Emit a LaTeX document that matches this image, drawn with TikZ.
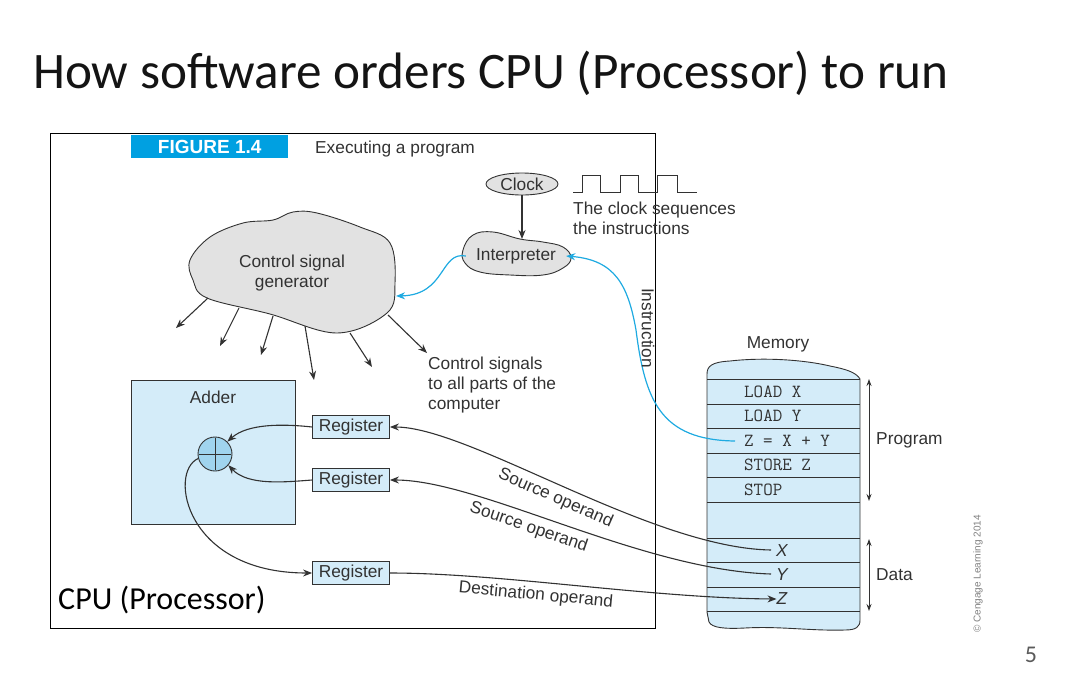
\documentclass[tikz,border=0pt]{standalone}
\usepackage{fontspec}
\setmainfont{Liberation Sans}
\newfontfamily\slidefont{Carlito}
\usetikzlibrary{arrows.meta,shapes.geometric}
\definecolor{figblue}{RGB}{0,160,225}
\definecolor{lightfill}{RGB}{212,236,249}
\definecolor{circfill}{RGB}{160,212,238}
\definecolor{cloudgray}{RGB}{226,226,226}
\definecolor{linegray}{RGB}{50,50,50}
\definecolor{cyanline}{RGB}{30,170,225}
\definecolor{slidetext}{RGB}{20,20,20}
\begin{document}
\begin{tikzpicture}[x=1pt,y=-1pt,
  figtext/.style={font=\fontsize{17.3}{20}\selectfont, text=linegray, inner sep=0pt},
  arr/.style={draw=linegray, line width=1.1pt, -{Stealth[length=9pt,width=7pt]}},
  rarr/.style={draw=linegray, line width=1.1pt, {Stealth[length=9pt,width=7pt]}-},
  barr/.style={draw=cyanline, line width=1.2pt, -{Stealth[length=9pt,width=7pt]}},
  regbox/.style={draw=linegray, fill=lightfill, line width=0.8pt, minimum width=77pt, minimum height=23pt, inner sep=0pt, font=\fontsize{17.3}{19}\selectfont, text=linegray},
  memtxt/.style={font=\ttfamily\fontsize{18.5}{20}\selectfont, text=linegray, inner sep=0pt, anchor=west},
  vartxt/.style={font=\itshape\fontsize{17.3}{19}\selectfont, text=linegray, inner sep=0pt},
  blob/.style={draw=linegray, fill=cloudgray, line width=0.9pt},
]
\useasboundingbox (0,0) rectangle (1073,678);

% title
\node[anchor=base west, font=\slidefont\fontsize{51.2}{60}\selectfont, text=slidetext, inner sep=0pt] (title) at (33,88) {How software orders CPU (Processor) to run};

% frame
\draw[black, line width=0.9pt] (50,133) rectangle (655,628);

% figure label
\node[fill=figblue, text=white, font=\bfseries\fontsize{19}{20}\selectfont, minimum width=157pt, minimum height=23pt, inner sep=0pt, anchor=north west] (figlbl) at (131,135) {FIGURE 1.4};
\node[figtext, anchor=base west] (exec) at (315,153) {Executing a program};

% clock
\node[ellipse, draw=linegray, fill=cloudgray, line width=0.9pt, minimum width=72pt, minimum height=22pt, inner sep=0pt, figtext] (clock) at (522,184) {Clock};
\draw[linegray, line width=1pt] (573,192) -- (582,192) -- (582,175) -- (600,175) -- (600,192) -- (620,192) -- (620,175) -- (638,175) -- (638,192) -- (657,192) -- (657,175) -- (677,175) -- (677,192) -- (697,192);
\node[figtext, anchor=north west, align=left] (clocktxt) at (573,202) {The clock sequences\\the instructions};

% interpreter
\draw[blob] plot[smooth cycle, tension=0.7] coordinates {(463,250) (473,235) (493,232) (520,239) (543,242) (563,247) (571,258) (563,268) (543,275) (510,275) (480,272) (465,263)};
\node[figtext, minimum width=100pt, minimum height=34pt] (interp) at (516,256) {Interpreter};
\draw[arr] (clock.south) -- (522,239);

% control signal generator
\draw[blob] plot[smooth cycle, tension=0.6] coordinates {(190,260) (210,237) (243,223) (273,220) (293,212) (317,213) (360,227) (390,243) (395,283) (387,313) (337,333) (270,314) (207,298) (193,280)};
\node[figtext, align=center] (csg) at (292,273) {Control signal\\generator};

\coordinate (csgR) at (396,296);
\draw[barr] (interp.west) .. controls (440,251) and (446,295) .. (csgR);

% control signal arrows
\coordinate (c1s) at (208,298); \coordinate (c1e) at (176,328);
\coordinate (c2s) at (239,308); \coordinate (c2e) at (220,346);
\coordinate (c3s) at (273,316); \coordinate (c3e) at (261,355);
\coordinate (c4s) at (305,326); \coordinate (c4e) at (314,380);
\coordinate (c5s) at (350,333); \coordinate (c5e) at (372,367);
\coordinate (c6s) at (388,315); \coordinate (c6e) at (427,353);
\foreach \i in {1,...,6} { \draw[arr] (c\i s) -- (c\i e); }
\node[figtext, anchor=north west, align=left] (ctrltxt) at (428,357) {Control signals\\to all parts of the\\computer};

% adder
\node[draw=linegray, fill=lightfill, line width=0.8pt, minimum width=164pt, minimum height=144pt, inner sep=0pt] (adder) at (213,452) {};
\node[figtext] (adderlbl) at (213,397) {Adder};
\node[circle, draw=linegray, fill=circfill, line width=0.9pt, minimum size=34pt, inner sep=0pt] (plus) at (215,454) {};
\draw[linegray, line width=1pt] ([yshift=-1pt]plus.north) -- ([yshift=1pt]plus.south) ([xshift=1pt]plus.west) -- ([xshift=-1pt]plus.east);

% registers
\node[regbox] (reg1) at (351,427) {Register};
\node[regbox] (reg2) at (351,480) {Register};
\node[regbox] (reg3) at (351,573) {Register};

\draw[arr] (reg1.west) .. controls (285,424) and (248,423) .. (plus.45);
\draw[arr] (reg2.west) .. controls (285,482) and (248,486) .. (plus.-40);
\draw[arr] (plus.195) .. controls (168,472) and (185,573) .. (reg3.west);

% memory
\draw[draw=linegray, fill=lightfill, line width=0.9pt] (707,612) -- (707,374) .. controls (707,366) and (712,362) .. (730,361) .. controls (765,357) and (805,360) .. (830,366) .. controls (845,369) and (856,372) .. (860,379) -- (860,620) .. controls (860,627) and (856,630) .. (845,630) .. controls (810,631) and (780,626) .. (745,628) .. controls (725,629) and (712,628) .. (709,622) -- cycle;
\foreach \yy in {379,404,428.5,453,477.5,502,538,562.5,587,611.5} { \draw[linegray, line width=0.8pt] (707,\yy) -- (860,\yy); }
\node[figtext] (memlbl) at (778,344) {Memory};
\node[memtxt] (m1) at (744,392) {LOAD X};
\node[memtxt] (m2) at (744,416) {LOAD Y};
\node[memtxt] (m3) at (744,441) {Z = X + Y};
\node[memtxt] (m4) at (744,465) {STORE Z};
\node[memtxt] (m5) at (744,490) {STOP};
\node[vartxt] (xv) at (782,551) {X};
\node[vartxt] (yv) at (782,575) {Y};
\node[vartxt] (zv) at (782,599) {Z};
\coordinate (xpt) at (771,550);
\coordinate (ypt) at (771,574);

\draw[linegray, line width=1pt, {Stealth[length=7pt,width=5pt]}-{Stealth[length=7pt,width=5pt]}] (869,379) -- (869,501);
\draw[linegray, line width=1pt, {Stealth[length=7pt,width=5pt]}-{Stealth[length=7pt,width=5pt]}] (869,539) -- (869,611);
\node[figtext, anchor=west] (proglbl) at (876,440) {Program};
\node[figtext, anchor=west] (datalbl) at (876,575) {Data};

% instruction path
\coordinate (instart) at (735,441);
\draw[barr] (instart) .. controls (660,440) and (645,400) .. (636,330) .. controls (628,285) and (615,260) .. (interp.east);
\node[figtext, rotate=-90] (instr) at (648,328) {Instruction};

% operand paths
\draw[rarr] (reg1.east) .. controls (470,427) and (650,548) .. (xpt) node[figtext, sloped, below=5pt, pos=0.49] (src1) {Source operand};
\draw[rarr] (reg2.east) .. controls (480,480) and (640,570) .. (ypt) node[figtext, sloped, below=5pt, pos=0.42] (src2) {Source operand};
\draw[arr] (reg3.east) .. controls (500,573) and (650,598) .. (zv.west) node[figtext, sloped, below=5pt, pos=0.4] (dst) {Destination operand};

% cpu label
\node[anchor=base west, font=\slidefont\fontsize{32}{34}\selectfont, text=black, inner sep=0pt] (cpulbl) at (58,609) {CPU (Processor)};

% page number, credit
\node[font=\slidefont\fontsize{24}{26}\selectfont, text=linegray!80, inner sep=0pt] (pagenum) at (1031,655) {5};
\node[font=\fontsize{10}{12}\selectfont, text=gray, rotate=90, inner sep=0pt] (credit) at (978,574) {\textcopyright\ Cengage Learning 2014};
\end{tikzpicture}
\end{document}
